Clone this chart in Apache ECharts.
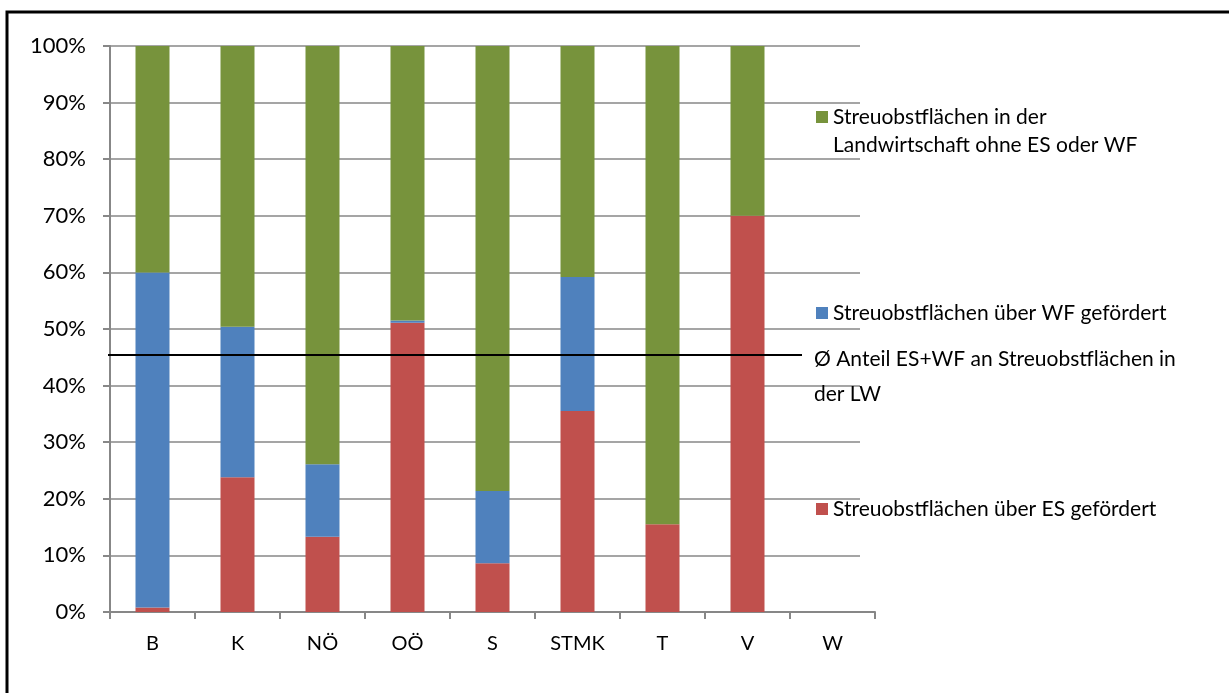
<!DOCTYPE html>
<html>
<head>
<meta charset="utf-8">
<script src="https://cdn.jsdelivr.net/npm/echarts@6/dist/echarts.min.js"></script>
<style>
  html, body { margin: 0; padding: 0; background: #fff; }
  #chart { width: 1229px; height: 693px; }
</style>
</head>
<body>
<div id="chart"></div>
<script>
// Bundesländer
const categories = ['B', 'K', 'NÖ', 'OÖ', 'S', 'STMK', 'T', 'V', 'W'];
// Anteile in Prozent (gestapelt, Summe 100)
const esShare = [0.8, 23.8, 13.3, 51.1, 8.6, 35.5, 15.5, 70.0, 0];
const wfShare = [59.2, 26.6, 12.8, 0.4, 12.8, 23.7, 0, 0, 0];
const restShare = [40.0, 49.6, 73.9, 48.5, 78.6, 40.8, 84.5, 30.0, 0];
const meanShare = 45.4;

const seriesNames = [
  'Streuobstflächen über ES gefördert',
  'Streuobstflächen über WF gefördert',
  'Streuobstflächen in der Landwirtschaft ohne ES oder WF',
  'Ø Anteil ES+WF an Streuobstflächen in der LW',
];

const font = 'Lato, "Open Sans", sans-serif';
const axisGray = '#878787';
const colors = { es: '#C0504D', wf: '#4F81BD', rest: '#77933C' };

const chart = echarts.init(document.getElementById('chart'), null, { renderer: 'canvas' });

const plotTop = 46;
const plotBottom = 81;

const legendText = { fontFamily: font, fontSize: 21, color: '#000', lineHeight: 28 };

// leading empty line keeps the first text line level with the legend icon
const option = {
  animation: false,
  backgroundColor: '#fff',
  textStyle: { fontFamily: font },
  grid: [
    // bars + axes
    { left: 110, right: 354, top: plotTop, bottom: plotBottom },
    // gridlines (end a bit before the axis end)
    { left: 110, right: 369, top: plotTop, bottom: plotBottom },
    // mean line
    { left: 108, right: 427, top: plotTop, bottom: plotBottom },
  ],
  xAxis: [
    {
      gridIndex: 0,
      type: 'category',
      data: categories,
      axisLine: { lineStyle: { color: axisGray, width: 2 } },
      axisTick: { show: true, length: 7, lineStyle: { color: axisGray, width: 2 } },
      axisLabel: { color: '#000', fontSize: 20, fontFamily: font, margin: 22 },
    },
    { gridIndex: 1, type: 'category', data: categories, show: false },
    { gridIndex: 2, type: 'value', min: 0, max: 1, show: false },
  ],
  yAxis: [
    {
      gridIndex: 0,
      type: 'value',
      min: 0,
      max: 100,
      interval: 10,
      axisLine: { show: true, lineStyle: { color: axisGray, width: 2 } },
      axisTick: { show: true, length: 7, lineStyle: { color: axisGray, width: 2 } },
      axisLabel: { color: '#000', fontSize: 22, fontFamily: font, margin: 24, formatter: '{value}%' },
      splitLine: { show: false },
    },
    {
      gridIndex: 1,
      type: 'value',
      min: 0,
      max: 100,
      interval: 10,
      axisLine: { show: false },
      axisTick: { show: false },
      axisLabel: { show: false },
      splitLine: { show: true, lineStyle: { color: axisGray, width: 1.5 } },
    },
    { gridIndex: 2, type: 'value', min: 0, max: 100, show: false },
  ],
  legend: [
    {
      data: [seriesNames[2]],
      left: 816,
      top: 75,
      padding: 0,
      icon: 'rect',
      itemWidth: 12,
      itemHeight: 12,
      formatter: () => '\nStreuobstflächen in der\nLandwirtschaft ohne ES oder WF',
      textStyle: legendText,
    },
    {
      data: [seriesNames[1]],
      left: 816,
      top: 299,
      padding: 0,
      icon: 'rect',
      itemWidth: 12,
      itemHeight: 12,
      textStyle: legendText,
    },
    {
      data: [seriesNames[3]],
      left: 808,
      top: 307,
      padding: 0,
      itemWidth: 0,
      itemHeight: 0,
      formatter: () => '\nØ Anteil ES+WF an Streuobstflächen in\nder LW',
      textStyle: Object.assign({}, legendText, { lineHeight: 35 }),
    },
    {
      data: [seriesNames[0]],
      left: 816,
      top: 495,
      padding: 0,
      icon: 'rect',
      itemWidth: 12,
      itemHeight: 12,
      textStyle: legendText,
    },
  ],
  series: [
    {
      name: seriesNames[0],
      type: 'bar',
      stack: 'share',
      xAxisIndex: 0,
      yAxisIndex: 0,
      data: esShare,
      barWidth: '40%',
      itemStyle: { color: colors.es },
      z: 3,
    },
    {
      name: seriesNames[1],
      type: 'bar',
      stack: 'share',
      xAxisIndex: 0,
      yAxisIndex: 0,
      data: wfShare,
      barWidth: '40%',
      itemStyle: { color: colors.wf },
      z: 3,
    },
    {
      name: seriesNames[2],
      type: 'bar',
      stack: 'share',
      xAxisIndex: 0,
      yAxisIndex: 0,
      data: restShare,
      barWidth: '40%',
      itemStyle: { color: colors.rest },
      z: 3,
    },
    {
      name: seriesNames[3],
      type: 'line',
      xAxisIndex: 2,
      yAxisIndex: 2,
      data: [[0, meanShare], [1, meanShare]],
      symbol: 'none',
      lineStyle: { color: '#000', width: 2 },
      itemStyle: { color: '#000' },
      z: 6,
    },
  ],
  graphic: [
    {
      type: 'rect',
      shape: { x: 7, y: 12, width: 1240, height: 700 },
      style: { fill: 'none', stroke: '#000', lineWidth: 3 },
      silent: true,
    },
  ],
};

chart.setOption(option);
</script>
</body>
</html>
